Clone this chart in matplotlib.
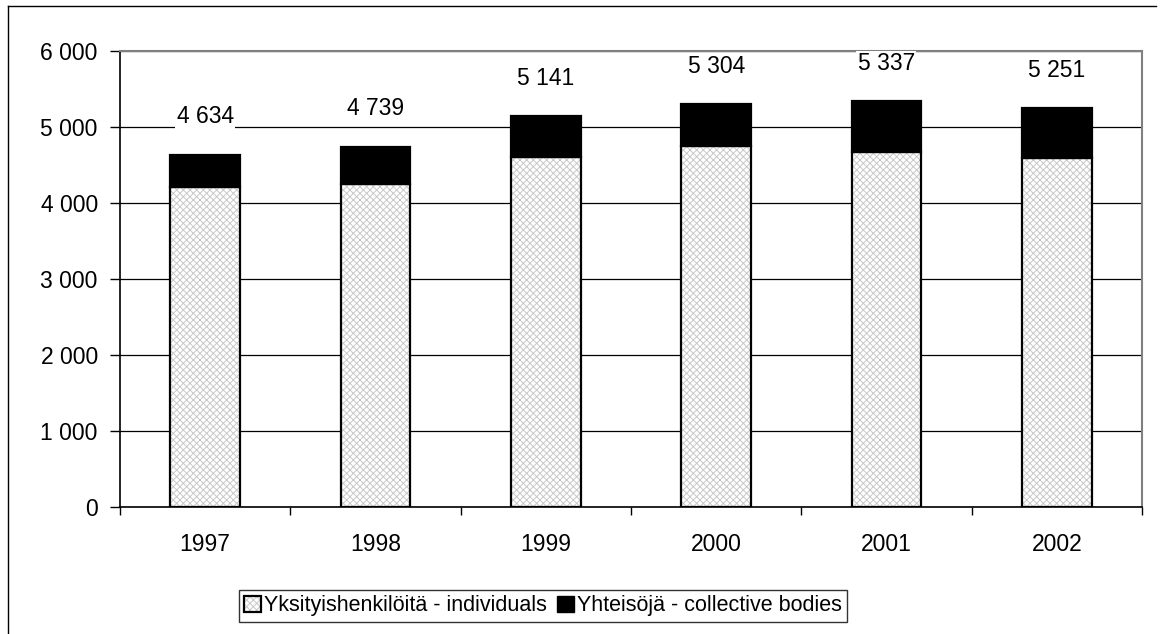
import numpy as np
import matplotlib.pyplot as plt
from matplotlib.lines import Line2D
from matplotlib.patches import Patch

plt.rcParams['font.family'] = ['Liberation Sans', 'DejaVu Sans']
plt.rcParams['hatch.linewidth'] = 0.7

# Data
years = ['1997', '1998', '1999', '2000', '2001', '2002']
individuals = [4205, 4255, 4610, 4745, 4670, 4590]
totals = [4634, 4739, 5141, 5304, 5337, 5251]
collective = [t - i for t, i in zip(totals, individuals)]
yticks = [0, 1000, 2000, 3000, 4000, 5000, 6000]

fs = 16.5
hatch_col = '#c8c8c8'

fig = plt.figure(figsize=(11.6, 6.34), dpi=100)
ax = fig.add_axes([120 / 1160, 1 - 507 / 634, (1142 - 120) / 1160, (507 - 51) / 634])

x = np.arange(len(years))
w = 0.41

# hatched lower part (gray hatch), then black outline on top
ax.bar(x, individuals, w, color='white', edgecolor=hatch_col, hatch='xxxxx', linewidth=0, zorder=2)
ax.bar(x, individuals, w, fill=False, edgecolor='black', linewidth=1.6, zorder=3)
ax.bar(x, collective, w, bottom=individuals, color='black', edgecolor='black', linewidth=1.6, zorder=3)

# value labels above bars
for xi, t in zip(x, totals):
    ax.annotate(f'{t:,}'.replace(',', ' '), (xi, t), xytext=(0, 19), textcoords='offset points',
                ha='center', va='bottom', fontsize=fs,
                bbox=dict(facecolor='white', edgecolor='none', pad=1), zorder=4)

ax.set_xlim(-0.5, len(years) - 0.5)
ax.set_ylim(0, 6000)
ax.set_yticks(yticks)
ax.set_yticklabels([f'{v:,}'.replace(',', ' ') for v in yticks], fontsize=fs)
ax.set_xticks(x)
ax.set_xticklabels(years, fontsize=fs)
ax.set_xticks(np.arange(len(years) + 1) - 0.5, minor=True)
ax.tick_params(axis='x', which='major', length=0, pad=19)
ax.tick_params(axis='x', which='minor', length=6, width=1)
ax.tick_params(axis='y', length=7, width=1, pad=9)

ax.yaxis.grid(True, color='black', linewidth=0.9, zorder=1)
ax.set_axisbelow(True)

ax.spines['left'].set_linewidth(1.2)
ax.spines['bottom'].set_linewidth(1.2)
ax.spines['top'].set_color('#808080')
ax.spines['right'].set_color('#808080')
ax.spines['top'].set_linewidth(1.5)
ax.spines['right'].set_linewidth(1.5)

# legend
h1 = (Patch(facecolor='white', edgecolor=hatch_col, hatch='xxxxx', linewidth=0),
      Patch(fill=False, edgecolor='black', linewidth=1.6))
h2 = Patch(facecolor='black', edgecolor='black')
leg = fig.legend([h1, h2], ['Yksityishenkilöitä - individuals', 'Yhteisöjä - collective bodies'],
                 loc='center', bbox_to_anchor=(543 / 1160, 1 - 606 / 634), ncol=2,
                 fontsize=15.5, frameon=True, fancybox=False, edgecolor='black',
                 handlelength=0.75, handleheight=0.75, handletextpad=0.15, columnspacing=0.5,
                 borderpad=0.25, borderaxespad=0)
leg.get_frame().set_linewidth(1.0)

# outer chart frame (top and left edges visible)
fig.add_artist(Line2D([8 / 1160, 1156 / 1160], [1 - 6 / 634, 1 - 6 / 634], color='black', lw=1, transform=fig.transFigure))
fig.add_artist(Line2D([8 / 1160, 8 / 1160], [1 - 6 / 634, 0], color='black', lw=1, transform=fig.transFigure))

plt.savefig('out.png', dpi=100)
